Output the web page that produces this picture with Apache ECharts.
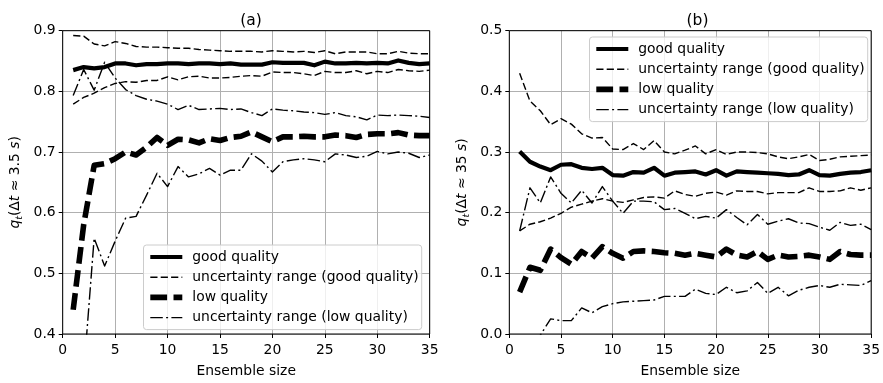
<!DOCTYPE html>
<html><head><meta charset="utf-8">
<script src="https://cdn.jsdelivr.net/npm/echarts@6/dist/echarts.min.js"></script>
<style>html,body{margin:0;padding:0;background:#fff}#c{width:883px;height:383px}</style>
</head><body><div id="c"></div>
<script>
const ensembleSize = [1,2,3,4,5,6,7,8,9,10,11,12,13,14,15,16,17,18,19,20,21,22,23,24,25,26,27,28,29,30,31,32,33,34,35];
const seriesNames = ['good quality','uncertainty range (good quality)','low quality','uncertainty range (low quality)'];
const xTicks = [0,5,10,15,20,25,30,35];
const aYTicks = [0.4,0.5,0.6,0.7,0.8,0.9];
const bYTicks = [0.0,0.1,0.2,0.3,0.4,0.5];

// panel (a)
const aGood   = [0.835,0.840,0.838,0.840,0.846,0.846,0.843,0.845,0.845,0.846,0.846,0.845,0.846,0.846,0.845,0.846,0.844,0.844,0.844,0.848,0.847,0.847,0.847,0.843,0.849,0.846,0.846,0.847,0.846,0.847,0.846,0.851,0.847,0.845,0.846];
const aGoodHi = [0.892,0.891,0.878,0.875,0.882,0.879,0.874,0.873,0.873,0.872,0.871,0.871,0.869,0.868,0.867,0.866,0.866,0.866,0.865,0.867,0.866,0.865,0.866,0.864,0.867,0.862,0.865,0.865,0.865,0.862,0.862,0.866,0.863,0.862,0.862];
const aGoodLo = [0.779,0.790,0.797,0.806,0.813,0.816,0.815,0.818,0.818,0.824,0.819,0.824,0.825,0.822,0.822,0.823,0.825,0.826,0.825,0.832,0.831,0.831,0.829,0.826,0.833,0.831,0.831,0.834,0.829,0.833,0.831,0.836,0.834,0.833,0.835];
const aLow    = [0.440,0.580,0.678,0.681,0.689,0.700,0.695,0.708,0.724,0.711,0.721,0.720,0.715,0.722,0.719,0.724,0.726,0.733,0.725,0.717,0.725,0.725,0.726,0.725,0.725,0.728,0.727,0.724,0.729,0.730,0.730,0.732,0.728,0.727,0.727];
const aLowHi  = [0.793,0.836,0.802,0.848,0.822,0.803,0.793,0.787,0.784,0.779,0.770,0.777,0.770,0.771,0.772,0.770,0.771,0.765,0.760,0.771,0.769,0.768,0.766,0.765,0.762,0.765,0.760,0.758,0.753,0.761,0.760,0.761,0.760,0.759,0.757];
const aLowLo  = [0.250,0.335,0.558,0.512,0.553,0.591,0.594,0.629,0.665,0.643,0.676,0.659,0.664,0.673,0.662,0.670,0.670,0.697,0.685,0.667,0.684,0.687,0.689,0.687,0.684,0.697,0.695,0.691,0.693,0.701,0.697,0.700,0.698,0.691,0.695];

// panel (b)
const bGood   = [0.301,0.284,0.276,0.270,0.279,0.280,0.274,0.272,0.274,0.262,0.261,0.267,0.266,0.274,0.261,0.266,0.267,0.268,0.263,0.270,0.261,0.268,0.267,0.266,0.265,0.264,0.262,0.263,0.270,0.262,0.261,0.264,0.266,0.267,0.270];
const bGoodHi = [0.430,0.384,0.368,0.345,0.355,0.346,0.330,0.323,0.324,0.305,0.304,0.314,0.304,0.319,0.300,0.297,0.303,0.310,0.297,0.304,0.296,0.300,0.300,0.299,0.297,0.292,0.289,0.292,0.296,0.286,0.288,0.292,0.293,0.294,0.295];
const bGoodLo = [0.170,0.181,0.185,0.191,0.199,0.209,0.214,0.219,0.223,0.219,0.217,0.221,0.225,0.226,0.224,0.236,0.230,0.227,0.232,0.234,0.229,0.236,0.235,0.235,0.231,0.233,0.233,0.233,0.241,0.235,0.235,0.236,0.241,0.237,0.241];
const bLow    = [0.069,0.110,0.105,0.140,0.126,0.115,0.136,0.125,0.144,0.133,0.125,0.136,0.137,0.136,0.134,0.133,0.130,0.133,0.130,0.127,0.140,0.130,0.127,0.136,0.123,0.130,0.127,0.128,0.130,0.127,0.123,0.136,0.131,0.130,0.130];
const bLowHi  = [0.170,0.241,0.216,0.259,0.232,0.216,0.237,0.216,0.243,0.219,0.199,0.219,0.219,0.218,0.205,0.207,0.199,0.190,0.194,0.191,0.205,0.192,0.180,0.197,0.181,0.186,0.190,0.183,0.182,0.176,0.171,0.184,0.179,0.181,0.172];
const bLowLo  = [-0.040,-0.030,-0.002,0.025,0.022,0.022,0.043,0.035,0.045,0.050,0.053,0.054,0.055,0.056,0.062,0.062,0.062,0.074,0.067,0.065,0.077,0.068,0.071,0.085,0.067,0.077,0.063,0.072,0.077,0.080,0.077,0.082,0.081,0.080,0.088];

const FONT = 'DejaVu Sans';
const FS = 13.9;
const styles = [
  {width: 4.2, type: 'solid'},
  {width: 1.4, type: [7.2, 3.2]},
  {width: 5.6, type: [16.8, 6.4]},
  {width: 1.4, type: [12.5, 3.3, 2, 3.3]}
];
function mk(vals, idx, panel) {
  return {
    type: 'line', name: seriesNames[idx], xAxisIndex: panel, yAxisIndex: panel,
    data: ensembleSize.map((x, i) => [x, vals[i]]),
    symbol: 'circle', showSymbol: false, symbolSize: 0, clip: true, animation: false,
    lineStyle: {color: '#000', width: styles[idx].width, type: styles[idx].type, cap: 'butt', join: 'round'},
    itemStyle: {color: '#000'},
    emphasis: {disabled: true},
    z: 3
  };
}
function xAx(g) {
  return {
    type: 'value', gridIndex: g, min: 0, max: 35, interval: 5,
    name: 'Ensemble size', nameLocation: 'middle', nameGap: 30,
    nameTextStyle: {fontFamily: FONT, fontSize: FS, color: '#000'},
    axisLine: {show: false},
    axisTick: {show: true, length: 4, lineStyle: {color: '#000'}},
    axisLabel: {fontFamily: FONT, fontSize: FS, color: '#000', margin: 9},
    splitLine: {show: true, lineStyle: {color: '#b0b0b0', width: 1}}
  };
}
function yAx(g, mn, mx, nm) {
  return {
    type: 'value', gridIndex: g, min: mn, max: mx, interval: 0.1,
    name: nm, nameLocation: 'middle', nameGap: 38,
    nameTextStyle: {fontFamily: FONT, fontSize: FS, color: '#000',
      rich: {
        n: {fontFamily: FONT, fontSize: FS, color: '#000'},
        i: {fontFamily: FONT, fontSize: FS, fontStyle: 'italic', color: '#000'},
        s: {fontFamily: FONT, fontSize: 9.5, fontStyle: 'italic', color: '#000', padding: [8, 0, 0, 0]}
      }},
    axisLine: {show: false},
    axisTick: {show: true, length: 4, lineStyle: {color: '#000'}},
    axisLabel: {fontFamily: FONT, fontSize: FS, color: '#000', margin: 7, formatter: v => v.toFixed(1)},
    splitLine: {show: true, lineStyle: {color: '#b0b0b0', width: 1}}
  };
}
function leg(pos) {
  return Object.assign({
    orient: 'vertical',
    data: seriesNames.map((n, i) => ({
      name: n,
      lineStyle: {color: '#000', width: styles[i].width, type: styles[i].type, cap: 'butt'},
      itemStyle: {opacity: 0, borderWidth: 0}
    })),
    itemWidth: 32, itemHeight: 14, itemGap: 6.2,
    itemStyle: {opacity: 0, borderWidth: 0},
    backgroundColor: 'rgba(255,255,255,0.8)', borderColor: '#cccccc', borderWidth: 1, borderRadius: 3,
    padding: [5, 3, 5, 4],
    textStyle: {fontFamily: FONT, fontSize: FS, color: '#000', padding: [0, 0, 0, 5]},
    selectedMode: false
  }, pos);
}
const chart = echarts.init(document.getElementById('c'), null, {renderer: 'canvas'});
chart.setOption({
  backgroundColor: '#fff',
  animation: false,
  title: [
    {text: '(a)', left: 246, top: 8, textAlign: 'center', textStyle: {fontFamily: FONT, fontSize: 15.5, fontWeight: 'normal', color: '#000'}},
    {text: '(b)', left: 692.5, top: 8, textAlign: 'center', textStyle: {fontFamily: FONT, fontSize: 15.5, fontWeight: 'normal', color: '#000'}}
  ],
  grid: [
    {left: 62.7, right: 453.3, top: 30.7, bottom: 45.7, show: true, borderColor: '#000', borderWidth: 1, backgroundColor: 'transparent', z: 4},
    {left: 509.3, right: 7.2, top: 30.7, bottom: 45.7, show: true, borderColor: '#000', borderWidth: 1, backgroundColor: 'transparent', z: 4}
  ],
  xAxis: [xAx(0), xAx(1)],
  yAxis: [
    yAx(0, 0.4, 0.9, '{i|q}{s|t}{n|(Δ}{i|t}{n| ≈ 3.5 }{i|s}{n|)}'),
    yAx(1, 0.0, 0.5, '{i|q}{s|t}{n|(Δ}{i|t}{n| ≈ 35 }{i|s}{n|)}')
  ],
  legend: [
    leg({left: 143.5, top: 245}),
    leg({left: 589.5, top: 37})
  ],
  series: [
    mk(aGood, 0, 0), mk(aGoodHi, 1, 0), mk(aLow, 2, 0), mk(aLowHi, 3, 0), mk(aGoodLo, 1, 0), mk(aLowLo, 3, 0),
    mk(bGood, 0, 1), mk(bGoodHi, 1, 1), mk(bLow, 2, 1), mk(bLowHi, 3, 1), mk(bGoodLo, 1, 1), mk(bLowLo, 3, 1)
  ]
});
</script></body></html>
